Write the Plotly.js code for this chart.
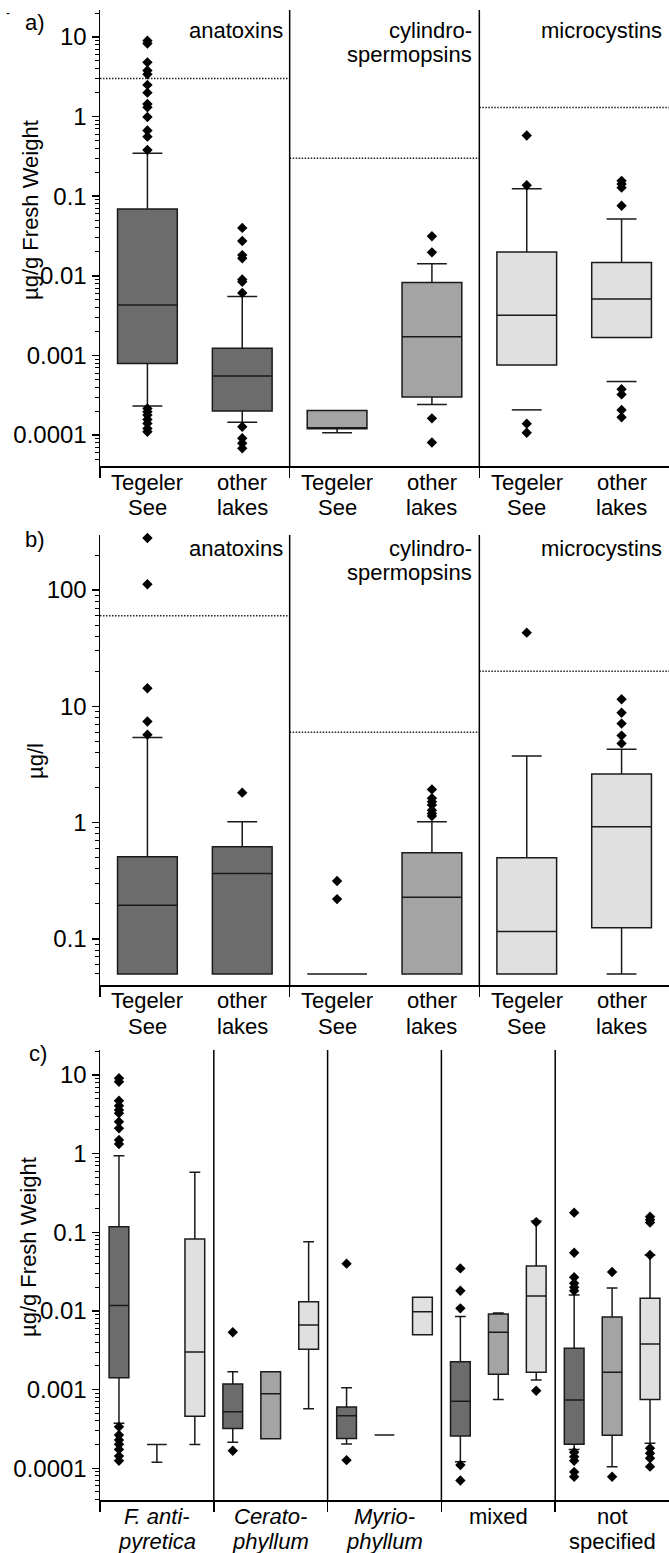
<!DOCTYPE html>
<html>
<head>
<meta charset="utf-8">
<script src="https://cdn.plot.ly/plotly-3.0.1.min.js"></script>
<style>html,body{margin:0;padding:0;background:#fff}#chart{width:669px;height:1553px}</style>
</head>
<body>
<div id="chart"></div>
<script>
// ---------------- DATA ----------------
// Panels a) and b): 3 toxins x 2 sites
const toxinsL1 = ['anatoxins', 'cylindro-', 'microcystins'];
const toxinsL2 = ['', 'spermopsins', ''];
const siteL1 = ['Tegeler', 'other'];
const siteL2 = ['See', 'lakes'];
const slotTone = ['dark', 'dark', 'medium', 'medium', 'light', 'light'];

// a) µg/g fresh weight — order: ana TS, ana other, cyl TS, cyl other, mc TS, mc other
const a_q1  = [0.00079, 0.00020, 0.00012, 0.00030, 0.00076, 0.00168];
const a_med = [0.0043, 0.00055, 0.00012, 0.00171, 0.0032, 0.0051];
const a_q3  = [0.069, 0.00123, 0.000203, 0.00826, 0.0199, 0.0147];
const a_lo  = [0.000231, 0.000145, 0.000107, 0.000241, 0.00076, 0.00168];
const a_hi  = [0.346, 0.0055, 0.000203, 0.0142, 0.124, 0.0517];
const a_cap = [null, null, null, null, 0.000207, 0.00047];
const a_out = [
  [9.0, 8.3, 4.8, 3.8, 3.4, 2.5, 2.0, 1.44, 1.31, 0.99, 0.67, 0.56, 0.38,
   0.000216, 0.000196, 0.000178, 0.000157, 0.00014, 0.000121, 0.00011],
  [0.040, 0.0274, 0.0182, 0.0166, 0.009, 0.0084, 0.0061, 0.000127, 0.000091, 0.000079, 0.000068],
  [],
  [0.0314, 0.0197, 0.000162, 0.0000805],
  [0.58, 0.137, 0.000139, 0.000107],
  [0.156, 0.142, 0.128, 0.076, 0.000377, 0.000324, 0.000207, 0.000167]
];
const a_limit = [3, 0.3, 1.3];

// b) µg/l
const b_q1  = [0.05, 0.05, 0.05, 0.05, 0.05, 0.125];
const b_med = [0.195, 0.366, 0.05, 0.228, 0.116, 0.92];
const b_q3  = [0.51, 0.62, 0.05, 0.55, 0.50, 2.62];
const b_lo  = [0.05, 0.05, 0.05, 0.05, 0.05, 0.05];
const b_hi  = [5.4, 1.02, 0.05, 1.02, 3.74, 4.27];
const b_out = [
  [280, 112, 14.3, 7.4, 5.7],
  [1.81],
  [0.315, 0.22],
  [1.93, 1.62, 1.51, 1.42, 1.28, 1.20, 1.14],
  [43],
  [11.5, 8.8, 7.1, 5.6, 4.8]
];
const b_limit = [60, 6, 20];

// c) µg/g fresh weight by macrophyte; per plant: anatoxins, cylindrospermopsins, microcystins
const plantL1 = ['<i>F. anti-</i>', '<i>Cerato-</i>', '<i>Myrio-</i>', 'mixed', 'not'];
const plantL2 = ['<i>pyretica</i>', '<i>phyllum</i>', '<i>phyllum</i>', '', 'specified'];
const c_q1  = [0.00142, 0.0002, 0.00046,  0.00032, 0.000238, 0.00326,  0.00024, 0.000265, 0.005,  0.000257, 0.00157, 0.00166,  0.000202, 0.000263, 0.00075];
const c_med = [0.0117, 0.0002, 0.003,     0.000525, 0.000887, 0.00664, 0.000467, 0.000265, 0.0098, 0.00071, 0.00536, 0.0155,   0.00074, 0.00166, 0.0038];
const c_q3  = [0.118, 0.0002, 0.082,      0.00118, 0.00169, 0.0131,    0.0006, 0.000265, 0.0149,  0.00226, 0.00916, 0.0373,    0.00335, 0.0084, 0.0145];
const c_lo  = [0.000373, 0.000119, 0.0002, 0.000214, 0.000238, 0.00057, 0.000204, 0.000265, 0.005, 0.000121, 0.00075, 0.00133, 0.000174, 0.000105, 0.000208];
const c_hi  = [0.94, 0.0002, 0.58,        0.00169, 0.00169, 0.076,     0.00106, 0.000265, 0.0149, 0.0085, 0.0094, 0.139,       0.016, 0.0196, 0.0515];
const c_out = [
  [9.1, 8.2, 4.7, 4.07, 3.59, 3.26, 2.55, 2.1, 1.49, 1.33,
   0.000338, 0.000265, 0.000229, 0.000202, 0.000174, 0.000143, 0.000125],
  [], [],
  [0.00536, 0.000167], [], [],
  [0.040, 0.000127], [], [],
  [0.0348, 0.0181, 0.0108, 0.00011, 0.00007], [], [0.135, 0.00097],
  [0.178, 0.055, 0.0268, 0.0225, 0.02, 0.0181, 0.00016, 0.00014, 0.000125, 0.00009, 0.000078],
  [0.0313, 0.000078],
  [0.158, 0.144, 0.133, 0.0515, 0.00018, 0.000155, 0.000134, 0.000105]
];
const cTone = ['dark', 'medium', 'light'];

const yTickVals = [0.0001, 0.001, 0.01, 0.1, 1, 10, 100];
const yTickText = ['0.0001', '0.001', '0.01', '0.1', '1', '10', '100'];

// ---------------- STYLE ----------------
const W = 669, H = 1553;
const FONT = 'Liberation Sans, Arial, Helvetica, sans-serif';
const FILL = {dark: '#6c6c6c', medium: '#a4a4a4', light: '#e0e0e0'};
const LINE = '#1a1a1a';
const py = p => 1 - p / H;

const traces = [];
const shapes = [];
const annotations = [];

function addPanel(ax, q1, med, q3, lo, hi, out, tones, width, ww) {
  const xa = ax === 1 ? 'x' : 'x' + ax, ya = ax === 1 ? 'y' : 'y' + ax;
  const ox = [], oy = [];
  q1.forEach((v, i) => {
    const pos = i + 0.5;
    traces.push({
      type: 'box', x: [pos], q1: [q1[i]], median: [med[i]], q3: [q3[i]],
      lowerfence: [lo[i]], upperfence: [hi[i]], width: width, whiskerwidth: ww,
      fillcolor: FILL[tones[i]], line: {color: LINE, width: 1.5},
      boxpoints: false, xaxis: xa, yaxis: ya, showlegend: false, hoverinfo: 'skip'
    });
    out[i].forEach(o => { ox.push(pos); oy.push(o); });
  });
  traces.push({
    type: 'scatter', mode: 'markers', x: ox, y: oy, xaxis: xa, yaxis: ya,
    marker: {symbol: 'diamond', size: 8, color: '#000'}, showlegend: false,
    hoverinfo: 'skip', cliponaxis: false
  });
}

function addLimits(ax, limits, groupW) {
  const xa = ax === 1 ? 'x' : 'x' + ax, ya = ax === 1 ? 'y' : 'y' + ax;
  const lx = [], ly = [];
  limits.forEach((v, g) => { lx.push(g * groupW, (g + 1) * groupW, null); ly.push(v, v, null); });
  traces.push({type: 'scatter', mode: 'lines', x: lx, y: ly, xaxis: xa, yaxis: ya,
    line: {color: '#222', width: 1.5, dash: '1.5px,1.5px'}, showlegend: false, hoverinfo: 'skip'});
}

// panel a
addPanel(1, a_q1, a_med, a_q3, a_lo, a_hi, a_out, slotTone, 0.63, 0.5);
addLimits(1, a_limit, 2);
{
  const cx = [], cy = [];
  a_cap.forEach((v, i) => { if (v !== null) { const p = i + 0.5; cx.push(p - 0.63 * 0.25, p + 0.63 * 0.25, null); cy.push(v, v, null); } });
  traces.push({type: 'scatter', mode: 'lines', x: cx, y: cy, line: {color: LINE, width: 1.5}, showlegend: false, hoverinfo: 'skip'});
}
// panel b
addPanel(2, b_q1, b_med, b_q3, b_lo, b_hi, b_out, slotTone, 0.63, 0.5);
addLimits(2, b_limit, 2);
// panel c
addPanel(3, c_q1, c_med, c_q3, c_lo, c_hi, c_out, c_q1.map((v, i) => cTone[i % 3]), 0.52, 0.55);

// geometry (pixel positions of the three plot areas)
const panels = [
  {top: 10, bottom: 466, lo: -4.389, hi: 1.339, nx: 6, seps: [2, 4], title: 'µg/g Fresh Weight', tx: 30, ty: 210, tag: 'a)', tagx: 35, tagy: 22},
  {top: 535, bottom: 985, lo: -1.396, hi: 2.473, nx: 6, seps: [2, 4], title: 'µg/l', tx: 35, ty: 761, tag: 'b)', tagx: 35, tagy: 539},
  {top: 1050, bottom: 1500, lo: -4.403, hi: 1.318, nx: 15, seps: [3, 6, 9, 12], title: 'µg/g Fresh Weight', tx: 28, ty: 1247, tag: 'c)', tagx: 38, tagy: 1053}
];

const minorVals = [];
for (let e = -5; e <= 3; e++) for (let m = 2; m <= 9; m++) minorVals.push(m * Math.pow(10, e));

const layout = {
  width: W, height: H, margin: {l: 0, r: 0, t: 0, b: 0},
  paper_bgcolor: '#fff', plot_bgcolor: '#fff', boxmode: 'overlay', showlegend: false,
  font: {family: FONT, size: 22, color: '#000'},
  shapes: shapes, annotations: annotations
};

panels.forEach((p, k) => {
  const n = k + 1;
  const xk = n === 1 ? 'xaxis' : 'xaxis' + n, yk = n === 1 ? 'yaxis' : 'yaxis' + n;
  const xr = n === 1 ? 'x' : 'x' + n, yr = n === 1 ? 'y' : 'y' + n;
  layout[xk] = {
    domain: [100 / W, 1], range: [0, p.nx], anchor: yr,
    showline: true, linecolor: '#000', linewidth: 1.5, mirror: false,
    tickmode: 'array', tickvals: [0].concat(p.seps), ticks: 'outside', ticklen: 10, tickwidth: 1.5, tickcolor: '#000',
    showticklabels: false, showgrid: false, zeroline: false, fixedrange: true
  };
  layout[yk] = {
    domain: [py(p.bottom), py(p.top)], type: 'log', range: [p.lo, p.hi], anchor: xr,
    showline: true, linecolor: '#000', linewidth: 1.5,
    tickmode: 'array', tickvals: yTickVals, ticktext: yTickText,
    ticks: 'outside', ticklen: 7, tickwidth: 1.5, tickcolor: '#000',
    minor: {tickmode: 'array', tickvals: minorVals, ticks: 'outside', ticklen: 4, tickwidth: 1, tickcolor: '#000', showgrid: false},
    tickfont: {size: 24, family: FONT}, showgrid: false, zeroline: false, fixedrange: true
  };
  p.seps.forEach(s => shapes.push({type: 'line', xref: xr, yref: yr + ' domain', x0: s, x1: s, y0: 0, y1: 1,
    line: {color: '#000', width: 1.5}}));
  annotations.push({xref: 'paper', yref: 'paper', x: p.tx / W, y: py(p.ty), text: p.title, textangle: -90,
    showarrow: false, xanchor: 'center', yanchor: 'middle', font: {size: 22}});
  annotations.push({xref: 'paper', yref: 'paper', x: p.tagx / W, y: py(p.tagy), text: p.tag,
    showarrow: false, xanchor: 'center', yanchor: 'middle', font: {size: 22}});
});

// group labels inside panels a and b
[[1, 30, 55], [2, 548, 573]].forEach(([n, y1, y2]) => {
  const xr = n === 1 ? 'x' : 'x' + n;
  toxinsL1.forEach((t, g) => {
    annotations.push({xref: xr, yref: 'paper', x: (g + 1) * 2, y: py(y1), text: t, showarrow: false,
      xanchor: 'right', yanchor: 'middle', xshift: -5});
    if (toxinsL2[g]) annotations.push({xref: xr, yref: 'paper', x: (g + 1) * 2, y: py(y2), text: toxinsL2[g], showarrow: false,
      xanchor: 'right', yanchor: 'middle', xshift: -5});
  });
});

// category labels under panels a and b
[[1, 466], [2, 985]].forEach(([n, axisY]) => {
  const xr = n === 1 ? 'x' : 'x' + n;
  for (let i = 0; i < 6; i++) {
    annotations.push({xref: xr, yref: 'paper', x: i + 0.5, y: py(axisY + 16), text: siteL1[i % 2], showarrow: false, xanchor: 'center', yanchor: 'middle'});
    annotations.push({xref: xr, yref: 'paper', x: i + 0.5, y: py(axisY + 41), text: siteL2[i % 2], showarrow: false, xanchor: 'center', yanchor: 'middle'});
  }
});
// category labels under panel c
plantL1.forEach((t, g) => {
  annotations.push({xref: 'x3', yref: 'paper', x: g * 3 + 1.5, y: py(1516), text: t, showarrow: false, xanchor: 'center', yanchor: 'middle'});
  if (plantL2[g]) annotations.push({xref: 'x3', yref: 'paper', x: g * 3 + 1.5, y: py(1541), text: plantL2[g], showarrow: false, xanchor: 'center', yanchor: 'middle'});
});
// small stray mark at top-left of the original figure
annotations.push({xref: 'paper', yref: 'paper', x: 8 / W, y: py(13), text: '-', showarrow: false, xanchor: 'center', yanchor: 'middle', font: {size: 12}});

Plotly.newPlot('chart', traces, layout, {staticPlot: true, displayModeBar: false});
</script>
</body>
</html>
